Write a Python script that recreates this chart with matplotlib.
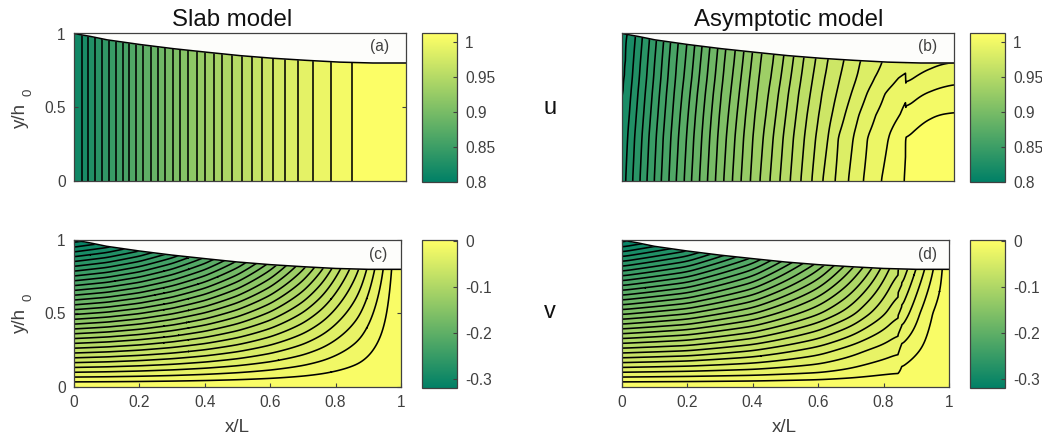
import numpy as np
import matplotlib
matplotlib.use('Agg')
import matplotlib.pyplot as plt
from matplotlib.cm import ScalarMappable
from matplotlib.colors import Normalize

plt.rcParams['font.family'] = ['Liberation Sans', 'DejaVu Sans']
plt.rcParams['contour.negative_linestyle'] = 'solid'

W, H = 1042, 440
INK = '#404040'

# upper surface of the wedge
h_x = [0, 0.05, 0.1, 0.2, 0.3, 0.4, 0.5, 0.6, 0.7, 0.8, 0.9, 1]
h_y = [1, 0.98, 0.957, 0.925, 0.897, 0.873, 0.85, 0.832, 0.818, 0.806, 0.8, 0.8]

# contour levels
u_levels = np.linspace(0.8115, 1.0115, 32)
v_levels = np.linspace(-0.3255, 0, 32)

# (a) x position of each u contour
a_cross = [0.023, 0.043, 0.063, 0.083, 0.104, 0.126, 0.147, 0.167, 0.187, 0.209,
           0.231, 0.253, 0.274, 0.297, 0.32, 0.344, 0.369, 0.395, 0.421, 0.447,
           0.475, 0.505, 0.535, 0.565, 0.6, 0.636, 0.676, 0.719, 0.773, 0.838]

# (b) left of the jump: x position of each u contour, one row per height
n = np.nan
b_y = [0, 0.3, 0.45, 0.6, 0.7, 0.8, 1]
b_cross = [
    [-0.012, 0.012, 0.033, 0.055, 0.076, 0.098, 0.119, 0.142, 0.164, 0.188, 0.21, 0.234, 0.258, 0.282, 0.307,
     0.333, 0.359, 0.387, 0.416, 0.446, 0.476, 0.507, 0.539, 0.572, 0.605, 0.642, 0.682, 0.727, 0.781, 0.85],
    [-0.006, 0.018, 0.039, 0.061, 0.082, 0.104, 0.125, 0.148, 0.171, 0.195, 0.217, 0.241, 0.265, 0.289, 0.315,
     0.341, 0.367, 0.395, 0.426, 0.456, 0.486, 0.517, 0.55, 0.584, 0.621, 0.652, 0.697, 0.74, 0.803, n],
    [-0.002, 0.023, 0.044, 0.066, 0.087, 0.109, 0.13, 0.153, 0.176, 0.2, 0.222, 0.246, 0.27, 0.294, 0.321,
     0.347, 0.373, 0.401, 0.434, 0.464, 0.494, 0.525, 0.558, 0.593, 0.633, 0.672, 0.714, 0.765, 0.838, n],
    [0.004, 0.028, 0.049, 0.071, 0.092, 0.114, 0.135, 0.158, 0.182, 0.206, 0.228, 0.252, 0.276, 0.3, 0.328,
     0.354, 0.38, 0.408, 0.442, 0.472, 0.502, 0.533, 0.568, 0.603, 0.647, 0.692, 0.739, 0.793, n, n],
    [0.008, 0.032, 0.053, 0.075, 0.096, 0.118, 0.139, 0.162, 0.187, 0.211, 0.233, 0.257, 0.281, 0.305, 0.333,
     0.359, 0.385, 0.413, 0.449, 0.479, 0.509, 0.54, 0.575, 0.611, 0.657, 0.707, 0.762, 0.833, n, n],
    [0.011, 0.035, 0.056, 0.078, 0.099, 0.121, 0.142, 0.165, 0.191, 0.215, 0.237, 0.261, 0.285, 0.309, 0.338,
     0.364, 0.39, 0.418, 0.455, 0.485, 0.515, 0.546, 0.582, 0.619, 0.667, 0.717, 0.783, n, n, n],
    [0.018, 0.042, 0.063, 0.085, 0.106, 0.128, 0.149, 0.172, 0.199, 0.223, 0.245, 0.269, 0.293, 0.317, 0.347,
     0.373, 0.399, 0.427, 0.466, 0.496, 0.526, 0.557, 0.594, 0.632, 0.685, 0.74, 0.81, n, n, n],
]
b_jump = 0.855
b_left_end = [1.0056, 1.0048, 1.0008, 0.9969, 0.9934, 0.9895, 0.9869]
# (b) right of the jump: u at four x stations
b_right_x = [0.855, 0.905, 0.955, 1]
b_right = [
    [1.0115, 1.0115, 1.0115, 1.0115],
    [1.0047, 1.0076, 1.0102, 1.0108],
    [1.0004, 1.0033, 1.005, 1.0055],
    [0.9949, 0.9981, 0.9998, 1.0006],
    [0.9906, 0.9938, 0.9958, 0.9969],
    [0.9857, 0.9895, 0.9915, 0.9922],
    [0.9792, 0.9844, 0.9857, 0.9857],
]

# (c) v at y/h0 = 1 (zero at the bottom)
c_x = [0, 0.1, 0.2, 0.3, 0.4, 0.5, 0.6, 0.7, 0.76, 0.814, 0.87, 0.92, 0.946, 0.971, 1]
c_top = [-0.32, -0.31, -0.295, -0.275, -0.25, -0.22, -0.185, -0.145, -0.118, -0.092, -0.066, -0.039, -0.026, -0.013, 0]

# (d) v table, one row per height
d_x = [0, 0.2, 0.4, 0.6, 0.7, 0.75, 0.8, 0.845, 0.855, 0.906, 0.937, 0.957, 0.98, 1]
d_y = [0, 0.1, 0.25, 0.5, 0.8, 1]
d_v = [
    [0, 0, 0, 0, 0, 0, 0, 0, 0, 0, 0, 0, 0, 0],
    [-0.032, -0.03, -0.027, -0.022, -0.0175, -0.015, -0.0128, -0.0115, -0.0084, -0.0045, -0.0028, -0.0018, -0.0012, 0],
    [-0.08, -0.075, -0.064, -0.048, -0.037, -0.0315, -0.027, -0.0228, -0.0177, -0.0112, -0.007, -0.0045, -0.003, 0],
    [-0.16, -0.148, -0.127, -0.096, -0.077, -0.065, -0.054, -0.043, -0.039, -0.0225, -0.0135, -0.009, -0.006, 0],
    [-0.256, -0.236, -0.2, -0.148, -0.116, -0.099, -0.08, -0.063, -0.06, -0.039, -0.027, -0.019, -0.0105, 0],
    [-0.32, -0.295, -0.25, -0.185, -0.145, -0.124, -0.1, -0.079, -0.075, -0.049, -0.034, -0.024, -0.013, 0],
]

x_ticks = [0, 0.2, 0.4, 0.6, 0.8, 1]
x_tick_labels = ['0', '0.2', '0.4', '0.6', '0.8', '1']
y_ticks = [0, 0.5, 1]
y_tick_labels = ['0', '0.5', '1']
u_ticks = [0.8, 0.85, 0.9, 0.95, 1]
u_tick_labels = ['0.8', '0.85', '0.9', '0.95', '1']
v_ticks = [-0.3, -0.2, -0.1, 0]
v_tick_labels = ['-0.3', '-0.2', '-0.1', '0']

u_range = (0.8, 1.0115)
v_range = (-0.32, 0.003)

# drawing grid
xg = np.linspace(0, 1, 1001)
yg = np.linspace(0, 1, 401)


def px_axes(fig, left, top, right, bottom):
    return fig.add_axes([left / W, 1 - bottom / H, (right - left) / W, (bottom - top) / H])


def ptext(fig, x, y, s, **kw):
    kw.setdefault('ha', 'center')
    kw.setdefault('va', 'center')
    fig.text(x / W, 1 - y / H, s, **kw)


def box(a, width, axis):
    # running mean with the edge values held
    def one(v):
        p = np.pad(v, width, mode='edge')
        return np.convolve(p, np.ones(2 * width + 1) / (2 * width + 1), mode='same')[width:-width]
    return np.apply_along_axis(one, axis, a)


def on_grid(x, y, z):
    rows = np.array([np.interp(xg, x, r) for r in np.asarray(z, dtype=float)])
    return np.array([np.interp(yg, y, rows[:, j]) for j in range(len(xg))]).T


def build_b_field():
    rows = np.zeros((len(b_y), len(xg)))
    for i in range(len(b_y)):
        row = np.array(b_cross[i])
        ok = ~np.isnan(row)
        xp = np.concatenate(([-0.1], row[ok], [b_jump]))
        up = np.concatenate(([u_levels[0]], u_levels[1:31][ok], [b_left_end[i]]))
        left = np.interp(xg, xp, up)
        right = np.interp(xg, b_right_x, b_right[i])
        rows[i] = np.where(xg < b_jump, left, right)
    field = on_grid(xg, b_y, rows)
    field = box(field, 16, 0)
    # round the arcs right of the jump
    hi = xg > b_jump
    field[:, hi] = box(field[:, hi], 20, 1)
    return field


def build_c_field():
    field = on_grid(c_x, [0, 1], np.vstack([np.zeros(len(c_x)), c_top]))
    return box(field, 12, 1)


def build_d_field():
    field = on_grid(d_x, d_y, d_v)
    lo = xg < 0.845
    hi = xg > 0.855
    field[:, lo] = box(field[:, lo], 25, 1)
    field[:, hi] = box(field[:, hi], 8, 1)
    return box(field, 8, 0)


def draw_panel(fig, box_px, cbox, x, y, z, levels, rng, tag, tag_x, tag_y, xlab):
    norm = Normalize(*rng)
    ax = px_axes(fig, *box_px)
    ax.contourf(x, y, z, levels=levels, cmap='summer', norm=norm)
    ax.contour(x, y, z, levels=levels[1:-1], colors='k', linewidths=1.15)
    ax.fill_between(h_x, h_y, 1.01, color='#fdfdfb', lw=0, zorder=3)
    ax.plot(h_x, h_y, color='k', lw=1.1, zorder=4)
    ax.set_xlim(0, 1)
    ax.set_ylim(0, 1)
    ax.text(tag_x, tag_y, tag, ha='center', va='center', fontsize=11.2, color=INK, zorder=5)
    ax.tick_params(direction='in', length=3, top=True, right=True, colors=INK, labelsize=11.2, width=0.8)
    if xlab:
        ax.set_xticks(x_ticks)
        ax.set_xticklabels(x_tick_labels)
        ax.tick_params(axis='x', pad=6)
    else:
        ax.set_xticks([])
    if box_px[0] < 100:
        ax.set_yticks(y_ticks)
        ax.set_yticklabels(y_tick_labels)
        ax.tick_params(axis='y', pad=6)
    else:
        ax.set_yticks([])
    for s in ax.spines.values():
        s.set_color(INK)
        s.set_linewidth(0.9)
        s.set_zorder(6)

    cax = px_axes(fig, *cbox)
    cb = fig.colorbar(ScalarMappable(norm=Normalize(*rng), cmap='summer'), cax=cax)
    ticks, labels = (u_ticks, u_tick_labels) if rng is u_range else (v_ticks, v_tick_labels)
    cb.set_ticks(ticks)
    cb.set_ticklabels(labels)
    cax.tick_params(direction='in', length=3, colors=INK, labelsize=11.2, width=0.8, pad=6)
    cb.outline.set_edgecolor(INK)
    cb.outline.set_linewidth(0.9)
    return ax


fig = plt.figure(figsize=(W / 100, H / 100), dpi=100)

# panel (a)
a_x = np.concatenate(([0], a_cross, [1]))
a_z = np.vstack([u_levels, u_levels])
draw_panel(fig, (74, 33.5, 406, 181), (422, 33.5, 457, 182), a_x, [0, 1], a_z, u_levels, u_range,
           '(a)', 0.92, 0.91, False)

# panel (b)
draw_panel(fig, (621.7, 33.5, 954, 181), (970, 33.5, 1005, 182), xg, yg, build_b_field(), u_levels, u_range,
           '(b)', 0.92, 0.91, False)

# panel (c)
draw_panel(fig, (74, 240, 401, 386.7), (422, 240, 457, 388), xg, yg, build_c_field(), v_levels, v_range,
           '(c)', 0.93, 0.898, True)

# panel (d)
draw_panel(fig, (621.7, 240, 949, 386.7), (970, 240, 1005, 388), xg, yg, build_d_field(), v_levels, v_range,
           '(d)', 0.933, 0.898, True)

ptext(fig, 232, 20, 'Slab model', fontsize=17.3, color='#111111')
ptext(fig, 789, 20, 'Asymptotic model', fontsize=17.3, color='#111111')
ptext(fig, 550, 108, 'u', fontsize=17, color='#111111')
ptext(fig, 550, 312, 'v', fontsize=17, color='#111111')
ptext(fig, 237, 427, 'x/L', fontsize=13.5, color=INK)
ptext(fig, 784, 427, 'x/L', fontsize=13.5, color=INK)
for yc, y0 in [(115, 92), (320, 297)]:
    ptext(fig, 20, yc, 'y/h', fontsize=13.5, color=INK, rotation=90)
    ptext(fig, 28, y0, '0', fontsize=9.5, color=INK, rotation=90)

fig.savefig('out.png', dpi=100)
